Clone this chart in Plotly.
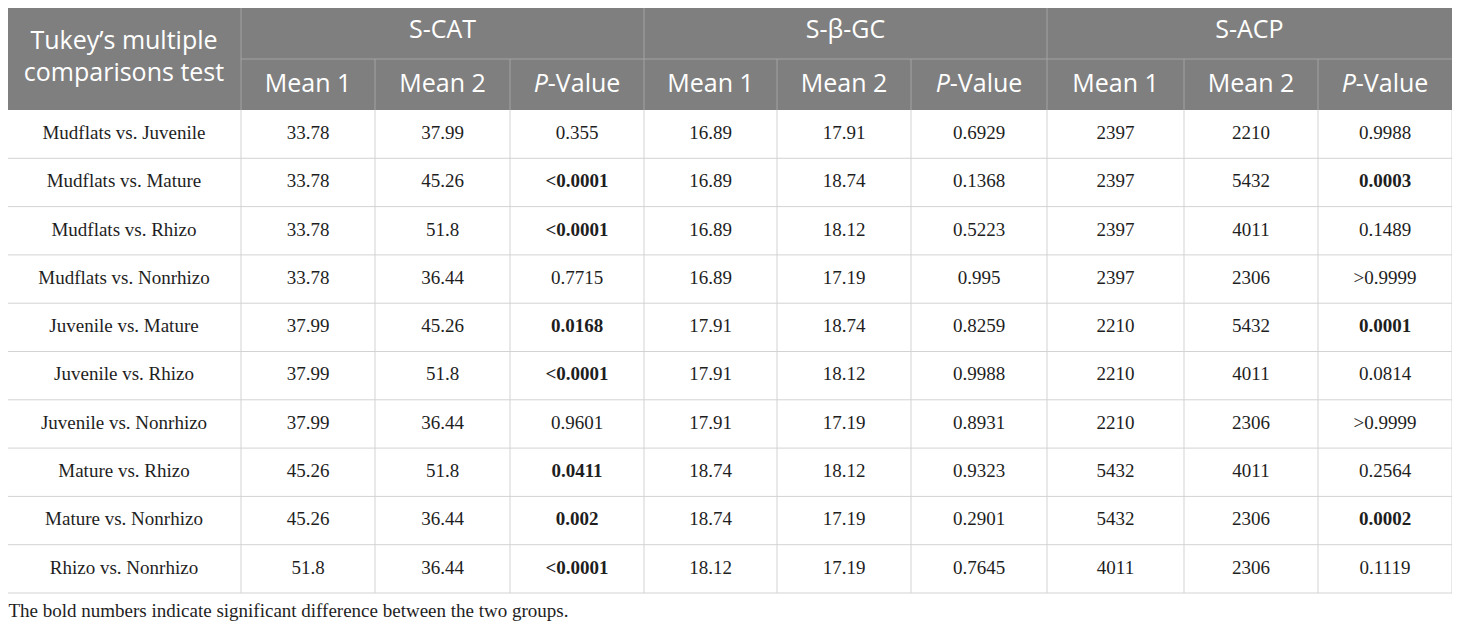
import plotly.graph_objects as go

# ---------------- data ----------------
comparisons = [
    "Mudflats vs. Juvenile", "Mudflats vs. Mature", "Mudflats vs. Rhizo",
    "Mudflats vs. Nonrhizo", "Juvenile vs. Mature", "Juvenile vs. Rhizo",
    "Juvenile vs. Nonrhizo", "Mature vs. Rhizo", "Mature vs. Nonrhizo",
    "Rhizo vs. Nonrhizo",
]
groups = ["S-CAT", "S-β-GC", "S-ACP"]
sub_headers = ["Mean 1", "Mean 2", "<i>P</i>-Value"]
first_header = "Tukey’s multiple<br>comparisons test"

cat_mean1 = [33.78, 33.78, 33.78, 33.78, 37.99, 37.99, 37.99, 45.26, 45.26, 51.8]
cat_mean2 = [37.99, 45.26, 51.8, 36.44, 45.26, 51.8, 36.44, 51.8, 36.44, 36.44]
cat_p = ["0.355", "<0.0001", "<0.0001", "0.7715", "0.0168", "<0.0001",
         "0.9601", "0.0411", "0.002", "<0.0001"]

gc_mean1 = [16.89, 16.89, 16.89, 16.89, 17.91, 17.91, 17.91, 18.74, 18.74, 18.12]
gc_mean2 = [17.91, 18.74, 18.12, 17.19, 18.74, 18.12, 17.19, 18.12, 17.19, 17.19]
gc_p = ["0.6929", "0.1368", "0.5223", "0.995", "0.8259", "0.9988",
        "0.8931", "0.9323", "0.2901", "0.7645"]

acp_mean1 = [2397, 2397, 2397, 2397, 2210, 2210, 2210, 5432, 5432, 4011]
acp_mean2 = [2210, 5432, 4011, 2306, 5432, 4011, 2306, 4011, 2306, 2306]
acp_p = ["0.9988", "0.0003", "0.1489", ">0.9999", "0.0001", "0.0814",
         ">0.9999", "0.2564", "0.0002", "0.1119"]

footnote = "The bold numbers indicate significant difference between the two groups."

# ---------------- layout geometry ----------------
# page offset of the figure (browser body margin) is 8px, so the axes are set
# up so that one data unit equals one page pixel.
OFF = 8
W, H = 1460, 631
FIG_W, FIG_H = W - OFF - 6, H - OFF - 5
col_edges = [7, 241, 375, 510, 644, 777, 911, 1047, 1184, 1318, 1452]
head_top, head_mid, head_bot = 7, 59, 110
table_bot = 593
n_rows = len(comparisons)
row_h = (table_bot - head_bot) / n_rows

HEAD_BG = "#7f7f7f"
HEAD_LINE = "#a3a3a3"
BODY_LINE = "#d3d3d3"
TEXT = "#1e1e1e"
SANS = "Open Sans"
SERIF = "Liberation Serif"
HEAD_SIZE = 25
BODY_SIZE = 19
NOTE_SIZE = 19


def is_sig(p):
    s = p.strip()
    if s.startswith("<"):
        return True
    if s.startswith(">"):
        return False
    return float(s) < 0.05


def fmt_p(p):
    return f"<b>{p}</b>" if is_sig(p) else p


columns = [
    [str(v) for v in cat_mean1], [str(v) for v in cat_mean2], [fmt_p(p) for p in cat_p],
    [str(v) for v in gc_mean1], [str(v) for v in gc_mean2], [fmt_p(p) for p in gc_p],
    [str(v) for v in acp_mean1], [str(v) for v in acp_mean2], [fmt_p(p) for p in acp_p],
]

fig = go.Figure()
shapes = []

# header background
shapes.append(dict(type="rect", xref="x", yref="y", x0=col_edges[0], x1=col_edges[-1],
                   y0=head_top, y1=head_bot, fillcolor=HEAD_BG, line=dict(width=0), layer="below"))
# header lines
shapes.append(dict(type="line", xref="x", yref="y", x0=col_edges[1], x1=col_edges[-1],
                   y0=head_mid, y1=head_mid, line=dict(color=HEAD_LINE, width=1)))
for i, xe in enumerate(col_edges[1:-1], start=1):
    y0 = head_top if (i - 1) % 3 == 0 else head_mid
    shapes.append(dict(type="line", xref="x", yref="y", x0=xe, x1=xe, y0=y0, y1=head_bot,
                       line=dict(color=HEAD_LINE, width=1)))

# body lines
for r in range(1, n_rows + 1):
    y = head_bot + r * row_h
    shapes.append(dict(type="line", xref="x", yref="y", x0=col_edges[0], x1=col_edges[-1],
                       y0=y, y1=y, line=dict(color=BODY_LINE, width=1)))
for xe in col_edges:
    shapes.append(dict(type="line", xref="x", yref="y", x0=xe, x1=xe, y0=head_bot, y1=table_bot,
                       line=dict(color=BODY_LINE, width=1)))

# header texts
fig.add_trace(go.Scatter(
    x=[(col_edges[0] + col_edges[1]) / 2], y=[(head_top + head_bot) / 2],
    mode="text", text=[first_header], textposition="middle center",
    textfont=dict(family=SANS, size=HEAD_SIZE, color="white"), hoverinfo="skip", showlegend=False))
gx = [(col_edges[1 + 3 * g] + col_edges[4 + 3 * g]) / 2 for g in range(3)]
fig.add_trace(go.Scatter(
    x=gx, y=[(head_top + head_mid) / 2 - 1] * 3, mode="text", text=groups,
    textposition="middle center", textfont=dict(family=SANS, size=HEAD_SIZE, color="white"),
    hoverinfo="skip", showlegend=False))
sx = [(col_edges[c] + col_edges[c + 1]) / 2 for c in range(1, 10)]
fig.add_trace(go.Scatter(
    x=sx, y=[(head_mid + head_bot) / 2 + 1] * 9, mode="text", text=sub_headers * 3,
    textposition="middle center", textfont=dict(family=SANS, size=HEAD_SIZE, color="white"),
    hoverinfo="skip", showlegend=False))

# body texts
row_y = [head_bot + (r + 0.5) * row_h for r in range(n_rows)]
fig.add_trace(go.Scatter(
    x=[(col_edges[0] + col_edges[1]) / 2] * n_rows, y=row_y, mode="text", text=comparisons,
    textposition="middle center", textfont=dict(family=SERIF, size=BODY_SIZE, color=TEXT),
    hoverinfo="skip", showlegend=False))
for c, col in enumerate(columns, start=1):
    fig.add_trace(go.Scatter(
        x=[(col_edges[c] + col_edges[c + 1]) / 2] * n_rows, y=row_y, mode="text", text=col,
        textposition="middle center", textfont=dict(family=SERIF, size=BODY_SIZE, color=TEXT),
        hoverinfo="skip", showlegend=False))

# footnote
fig.add_trace(go.Scatter(
    x=[OFF + 0.5], y=[612], mode="text", text=[footnote], textposition="middle right",
    textfont=dict(family=SERIF, size=NOTE_SIZE, color=TEXT), hoverinfo="skip",
    showlegend=False, cliponaxis=False))

fig.update_layout(
    width=FIG_W, height=FIG_H, autosize=False,
    margin=dict(l=0, r=0, t=0, b=0),
    paper_bgcolor="white", plot_bgcolor="white",
    shapes=shapes,
    xaxis=dict(range=[OFF, OFF + FIG_W], visible=False, fixedrange=True),
    yaxis=dict(range=[OFF + FIG_H, OFF], visible=False, fixedrange=True),
)

fig.write_html("out.html")
